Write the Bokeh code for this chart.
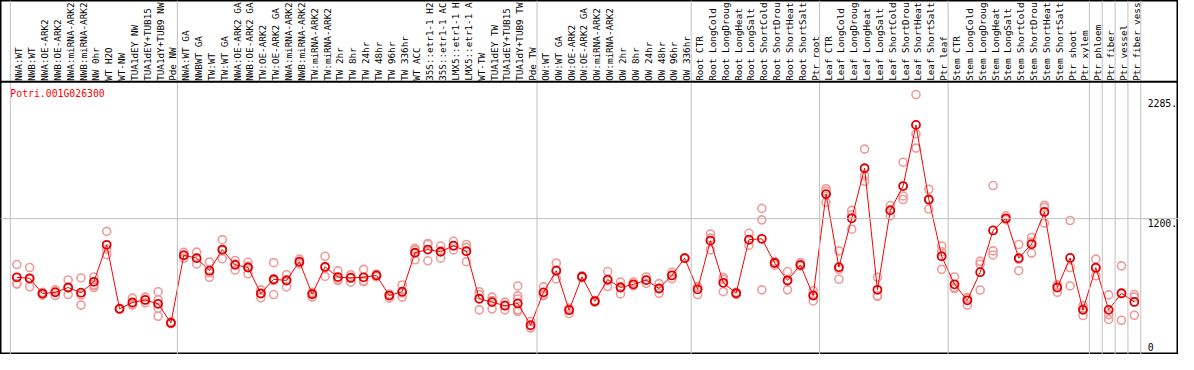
from math import pi
from bokeh.plotting import figure
from bokeh.models import Range1d, Span
from bokeh.core.properties import value
from bokeh.embed import file_html
from bokeh.resources import INLINE

title_text = "Potri.001G026300"

categories = [
    "NWA:WT", "NWB:WT", "NWA:OE-ARK2", "NWB:OE-ARK2", "NWA:miRNA-ARK2", "NWB:miRNA-ARK2",
    "NW 0hr", "WT H2O", "WT-NW", "TUA1dEY NW", "TUA1dEY+TUB15 NW", "TUA1dY+TUB9 NW", "Pde NW",
    "NWA:WT GA", "NWBWT GA", "TW:WT", "TW:WT GA", "NWA:OE-ARK2 GA", "NWB:OE-ARK2 GA",
    "TW:OE-ARK2", "TW:OE-ARK2 GA", "NWA:miRNA-ARK2 GA", "NWB:miRNA-ARK2 GA", "TW:miRNA-ARK2",
    "TW:miRNA-ARK2 GA", "TW 2hr", "TW 8hr", "TW 24hr", "TW 48hr", "TW 96hr", "TW 336hr",
    "WT ACC", "35S::etr1-1 H2O", "35S::etr1-1 ACC", "LMX5::etr1-1 H2O", "LMX5::etr1-1 ACC",
    "WT-TW", "TUA1dEY TW", "TUA1dEY+TUB15 TW", "TUA1dY+TUB9 TW", "Pde TW",
    "OW:WT", "OW:WT GA", "OW:OE-ARK2", "OW:OE-ARK2 GA", "OW:miRNA-ARK2", "OW:miRNA-ARK2 GA",
    "OW 2hr", "OW 8hr", "OW 24hr", "OW 48hr", "OW 96hr", "OW 336hr",
    "Root CTR", "Root LongCold", "Root LongDrought", "Root LongHeat", "Root LongSalt",
    "Root ShortCold", "Root ShortDrought", "Root ShortHeat", "Root ShortSalt", "Ptr root",
    "Leaf CTR", "Leaf LongCold", "Leaf LongDrought", "Leaf LongHeat", "Leaf LongSalt",
    "Leaf ShortCold", "Leaf ShortDrought", "Leaf ShortHeat", "Leaf ShortSalt", "Ptr leaf",
    "Stem CTR", "Stem LongCold", "Stem LongDrought", "Stem LongHeat", "Stem LongSalt",
    "Stem ShortCold", "Stem ShortDrought", "Stem ShortHeat", "Stem ShortSalt", "Ptr shoot",
    "Ptr xylem", "Ptr phloem", "Ptr fiber", "Ptr vessel", "Ptr fiber vessel",
]

group_sizes = [13, 28, 12, 10, 10, 11, 1, 1, 1, 1]

means = [
    667, 658, 519, 530, 574, 527, 626, 962, 380, 438, 461, 426, 252,
    867, 841, 727, 919, 780, 756, 519, 649, 638, 809, 513, 762, 669, 661, 667, 684,
    501, 536, 890, 919, 899, 954, 904, 472, 441, 409, 429, 232,
    530, 727, 368, 672, 449, 646, 574, 603, 641, 565, 684, 841,
    557, 1000, 617, 522, 1009, 1017, 797, 638, 780, 501,
    1423, 759, 1203, 1658, 553, 1275, 1496, 2052, 1374, 858,
    603, 458, 713, 1093, 1203, 841, 968, 1261, 574, 843, 371,
    754, 371, 522, 443,
]

replicates = [
    [783, 611, 605], [756, 580, 650], [530, 505, 522], [553, 501, 536], [643, 510, 570],
    [661, 414, 506], [669, 574, 590, 600], [1084, 922, 872], [384, 376, 380], [478, 414, 422],
    [487, 435, 461], [536, 464, 386, 313], [248, 245, 262],
    [893, 870, 840], [896, 788, 840], [806, 667, 708], [1009, 835, 912], [820, 733, 787],
    [803, 698, 767], [553, 481, 523], [800, 510, 637], [690, 580, 644], [832, 790, 805],
    [487, 530, 522], [858, 675, 753], [725, 646, 636], [690, 623, 670], [739, 626, 636],
    [696, 672, 684], [478, 512, 513], [597, 487, 524], [930, 826, 914], [974, 817, 966],
    [951, 841, 905], [994, 916, 952], [965, 809, 938], [536, 371, 509], [487, 380, 456],
    [441, 371, 415], [588, 498, 470, 371, 356], [206, 225, 265],
    [580, 510, 500], [797, 652, 732], [336, 380, 388], [680, 665, 671], [455, 440, 452],
    [719, 583, 636], [623, 516, 583], [623, 590, 596], [670, 612, 641], [609, 522, 564],
    [713, 655, 684], [845, 838, 840],
    [583, 510, 578], [1061, 916, 1023], [667, 536, 648], [530, 510, 526], [1067, 957, 1003],
    [1293, 1189, 553], [777, 810, 804], [719, 553, 642], [800, 770, 770], [545, 452, 506],
    [1472, 1450, 1348], [907, 739, 649], [1275, 1235, 1104], [1832, 1588, 1539],
    [667, 493, 500], [1319, 1226, 1280], [1713, 1406, 1374], [2328, 1971, 1841],
    [1467, 1287, 1370], [951, 899, 739],
    [670, 574, 565], [478, 414, 482], [812, 785, 551], [1501, 907, 870], [1226, 1190, 1195],
    [965, 727, 831], [1029, 887, 988], [1322, 1159, 1302], [597, 530, 595], [1183, 756, 588],
    [409, 319, 385],
    [832, 681, 749], [507, 328, 284], [771, 276, 519], [510, 487, 322],
]

tick_values = [2285, 1200, 0]
tick_labels = ["2285.", "1200.", "0"]
grid_values = [1200]

# the reference's header band only shows the first 14 characters of each label
label_chars = 14

# ---- geometry (expressed in reference-pixel terms, mapped through ranges) ----
W, H = 1178, 354
ref_w, ref_h = 1194, 370
cat_w = 13.02          # px per category
first_center = 16.5    # px of first category centre
px_per_unit = 0.115    # px per expression unit
zero_px = 366.0        # px of value 0

x_start = (0 - first_center) / cat_w
x_end = (ref_w - first_center) / cat_w
y_top = zero_px / px_per_unit
y_bot = (zero_px - ref_h) / px_per_unit
label_y = (zero_px - 84) / px_per_unit
sep_y = (zero_px - 85) / px_per_unit
title_y = (zero_px - 97.5) / px_per_unit

n = len(categories)
xs = list(range(n))
shown_labels = [c[:label_chars].rstrip() for c in categories]

p = figure(width=W, height=H, x_range=Range1d(x_start, x_end), y_range=Range1d(y_bot, y_top),
           output_backend="svg", toolbar_location=None, x_axis_type=None, y_axis_type=None,
           min_border=0, min_border_left=0, min_border_right=0, min_border_top=0, min_border_bottom=0)
p.grid.visible = False
p.outline_line_color = "black"
p.outline_line_width = 2
p.background_fill_color = "white"
p.border_fill_color = "white"

# group separators
bounds = [0]
for g in group_sizes:
    bounds.append(bounds[-1] + g)
for b in bounds:
    p.add_layout(Span(location=b - 0.5, dimension="height", line_color="#c0c0c0", line_width=1))
for gv in grid_values:
    p.add_layout(Span(location=gv, dimension="width", line_color="#c0c0c0", line_width=1))
p.add_layout(Span(location=sep_y, dimension="width", line_color="black", line_width=2))

# replicates
rx, ry = [], []
for i, reps in enumerate(replicates):
    for r in reps:
        rx.append(i)
        ry.append(r)
p.scatter(rx, ry, marker="circle", size=8, fill_color=None, line_color="#f09a9a", line_width=1.6)

# mean line and markers
p.line(xs, means, line_color="red", line_width=1)
p.scatter(xs, means, marker="circle", size=8, fill_color=None, line_color="#e00000", line_width=1.8)

mono = value("DejaVu Sans Mono")

# category labels (vertical)
p.text(x=xs, y=[label_y] * n, text=shown_labels, angle=pi / 2, text_align="left",
       text_baseline="middle", text_font=mono, text_font_size="9.3px", text_color="black",
       x_offset=2)

# title
p.text(x=[-0.5], y=[title_y], text=[title_text], text_align="left", text_baseline="middle",
       text_font=mono, text_font_size="9.8px", text_color="red")

# right-hand value labels
lab_x = (n - 0.5) + 7 / cat_w
offsets = [4 if v > 0 else -4 for v in tick_values]
p.text(x=[lab_x] * len(tick_values), y=tick_values, text=tick_labels, y_offset=offsets,
       text_align="left", text_baseline="middle", text_font=mono, text_font_size="9.8px",
       text_color="black")

open("out.html", "w").write(file_html(p, INLINE))
